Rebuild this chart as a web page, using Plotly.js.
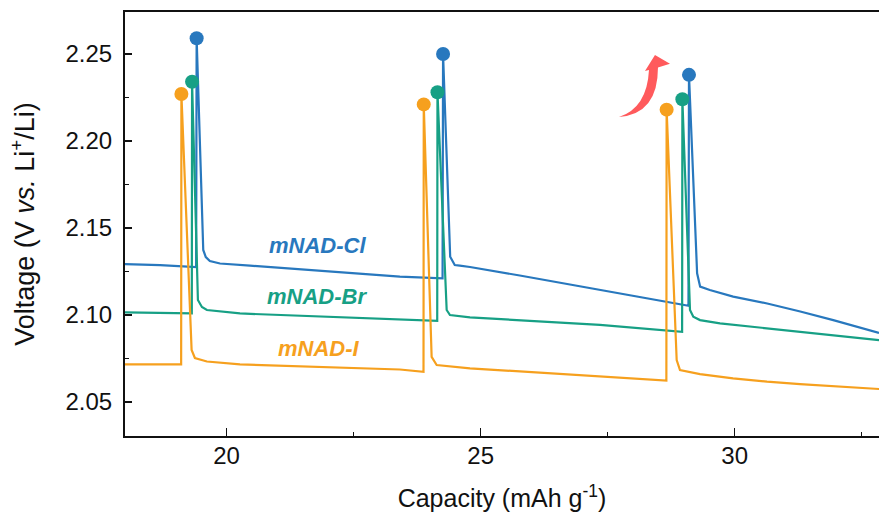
<!DOCTYPE html>
<html>
<head>
<meta charset="utf-8">
<script src="https://cdn.plot.ly/plotly-3.0.1.min.js"></script>
<style>
  html, body { margin: 0; padding: 0; background: #fff; }
  #chart { width: 879px; height: 521px; }
</style>
</head>
<body>
<div id="chart"></div>
<script>
// Galvanostatic voltage profiles (capacity in mAh/g, voltage vs. Li+/Li)
const capCl = [18.00, 18.69, 19.40, 19.41, 19.54, 19.59, 19.67, 19.87, 20.46, 21.44, 22.43, 23.41, 24.25,
               24.26, 24.40, 24.49, 24.59, 24.79, 25.77, 26.76, 27.35, 28.33, 29.09,
               29.10, 29.26, 29.32, 29.51, 29.97, 30.64, 31.29, 31.94, 32.84];
const voltCl = [2.1293, 2.1287, 2.1276, 2.259, 2.1374, 2.1333, 2.1310, 2.1296, 2.1284, 2.1264, 2.1244, 2.1221, 2.1211,
                2.250, 2.1335, 2.1287, 2.1284, 2.1276, 2.1227, 2.1175, 2.1144, 2.1092, 2.1053,
                2.238, 2.1240, 2.1163, 2.1144, 2.1106, 2.1066, 2.1020, 2.0971, 2.0897];

const capBr = [18.00, 19.315, 19.32, 19.435, 19.514, 19.612, 20.262, 21.443, 23.411, 24.145,
               24.15, 24.331, 24.396, 24.789, 27.348, 28.965,
               28.97, 29.120, 29.185, 29.317, 29.711, 30.636, 31.285, 31.935, 32.841];
const voltBr = [2.1015, 2.1010, 2.234, 2.1086, 2.1046, 2.1029, 2.1009, 2.0996, 2.0975, 2.0966,
                2.228, 2.1029, 2.1000, 2.0987, 2.0943, 2.0904,
                2.224, 2.1029, 2.0990, 2.0971, 2.0952, 2.0924, 2.0904, 2.0885, 2.0856];

const capI = [18.00, 19.105, 19.11, 19.311, 19.376, 19.612, 20.262, 21.443, 23.411, 23.875,
              23.88, 24.035, 24.134, 24.789, 26.364, 27.348, 28.655,
              28.66, 28.858, 28.923, 29.317, 29.967, 30.636, 31.285, 31.935, 32.841];
const voltI = [2.0717, 2.0716, 2.227, 2.0799, 2.0753, 2.0733, 2.0716, 2.0704, 2.0687, 2.0674,
               2.221, 2.0760, 2.0713, 2.0694, 2.0667, 2.0649, 2.0624,
               2.218, 2.0741, 2.0684, 2.0661, 2.0636, 2.0617, 2.0603, 2.0592, 2.0575];

const seriesNames = ['mNAD-Cl', 'mNAD-Br', 'mNAD-I'];
const seriesColors = ['#2878BE', '#17A085', '#F6A01E'];
// label anchor (capacity, voltage) for each series name
const labelCap = [21.78, 21.78, 21.82];
const labelVolt = [2.1397, 2.1109, 2.0810];

const FONT = 'Arial, "Liberation Sans", sans-serif';
const PEAK_THRESHOLD = 2.2;

const curves = [[capCl, voltCl], [capBr, voltBr], [capI, voltI]];
const traces = [];
curves.forEach(([cap, volt], i) => {
  traces.push({
    x: cap, y: volt, type: 'scatter', mode: 'lines',
    line: { color: seriesColors[i], width: 2.2 },
    name: seriesNames[i], hoverinfo: 'skip'
  });
});
// circle at the top of every voltage spike
curves.forEach(([cap, volt], i) => {
  const px = [], py = [];
  volt.forEach((v, k) => { if (v > PEAK_THRESHOLD) { px.push(cap[k]); py.push(v); } });
  traces.push({
    x: px, y: py, type: 'scatter', mode: 'markers',
    marker: { color: seriesColors[i], size: 14 },
    showlegend: false, hoverinfo: 'skip'
  });
});

const annotations = seriesNames.map((n, i) => ({
  x: labelCap[i], y: labelVolt[i], xref: 'x', yref: 'y',
  text: '<b><i>' + n + '</i></b>', showarrow: false,
  font: { family: FONT, size: 22, color: seriesColors[i] },
  xanchor: 'center', yanchor: 'middle'
}));

const layout = {
  width: 879, height: 521,
  margin: { l: 125, r: 0, t: 12, b: 85 },
  paper_bgcolor: '#fff', plot_bgcolor: '#fff',
  showlegend: false,
  font: { family: FONT, color: '#111' },
  xaxis: {
    range: [18.0, 32.84],
    showline: true, linewidth: 2, linecolor: '#111', mirror: true,
    ticks: 'inside', ticklen: 8, tickwidth: 1.5, tickcolor: '#111',
    tick0: 0, dtick: 5,
    minor: { dtick: 2.5, ticks: 'inside', ticklen: 4, tickwidth: 1.5, tickcolor: '#111' },
    showgrid: false, zeroline: false,
    tickfont: { family: FONT, size: 24, color: '#111' },
    ticklabelstandoff: -3,
    title: { text: 'Capacity (mAh g<sup>-1</sup>)', font: { family: FONT, size: 25, color: '#111' }, standoff: 22 },
    automargin: false
  },
  yaxis: {
    range: [2.0305, 2.2741],
    showline: true, linewidth: 2, linecolor: '#111', mirror: false,
    ticks: 'inside', ticklen: 7, tickwidth: 1.5, tickcolor: '#111',
    tick0: 2.05, dtick: 0.05, tickformat: '.2f',
    minor: { dtick: 0.025, ticks: 'inside', ticklen: 4, tickwidth: 1.5, tickcolor: '#111' },
    showgrid: false, zeroline: false,
    tickfont: { family: FONT, size: 24, color: '#111' },
    ticklabelstandoff: 6,
    title: { text: 'Voltage (V <i>vs.</i> Li<sup>+</sup>/Li)', font: { family: FONT, size: 27, color: '#111' }, standoff: 23 },
    automargin: false
  },
  annotations: annotations,
  shapes: [{
    // curved arrow pointing up-right, above the third cycle
    type: 'path', xref: 'x', yref: 'y',
    path: 'M27.722,2.2138 Q28.274,2.2190 28.313,2.2408 L28.234,2.2402 L28.431,2.2494 L28.726,2.2443 L28.490,2.2422 Q28.490,2.2155 27.722,2.2138 Z',
    fillcolor: '#FF5A5C', line: { width: 0 }
  }]
};

Plotly.newPlot('chart', traces, layout, { displayModeBar: false, staticPlot: true });
</script>
</body>
</html>
